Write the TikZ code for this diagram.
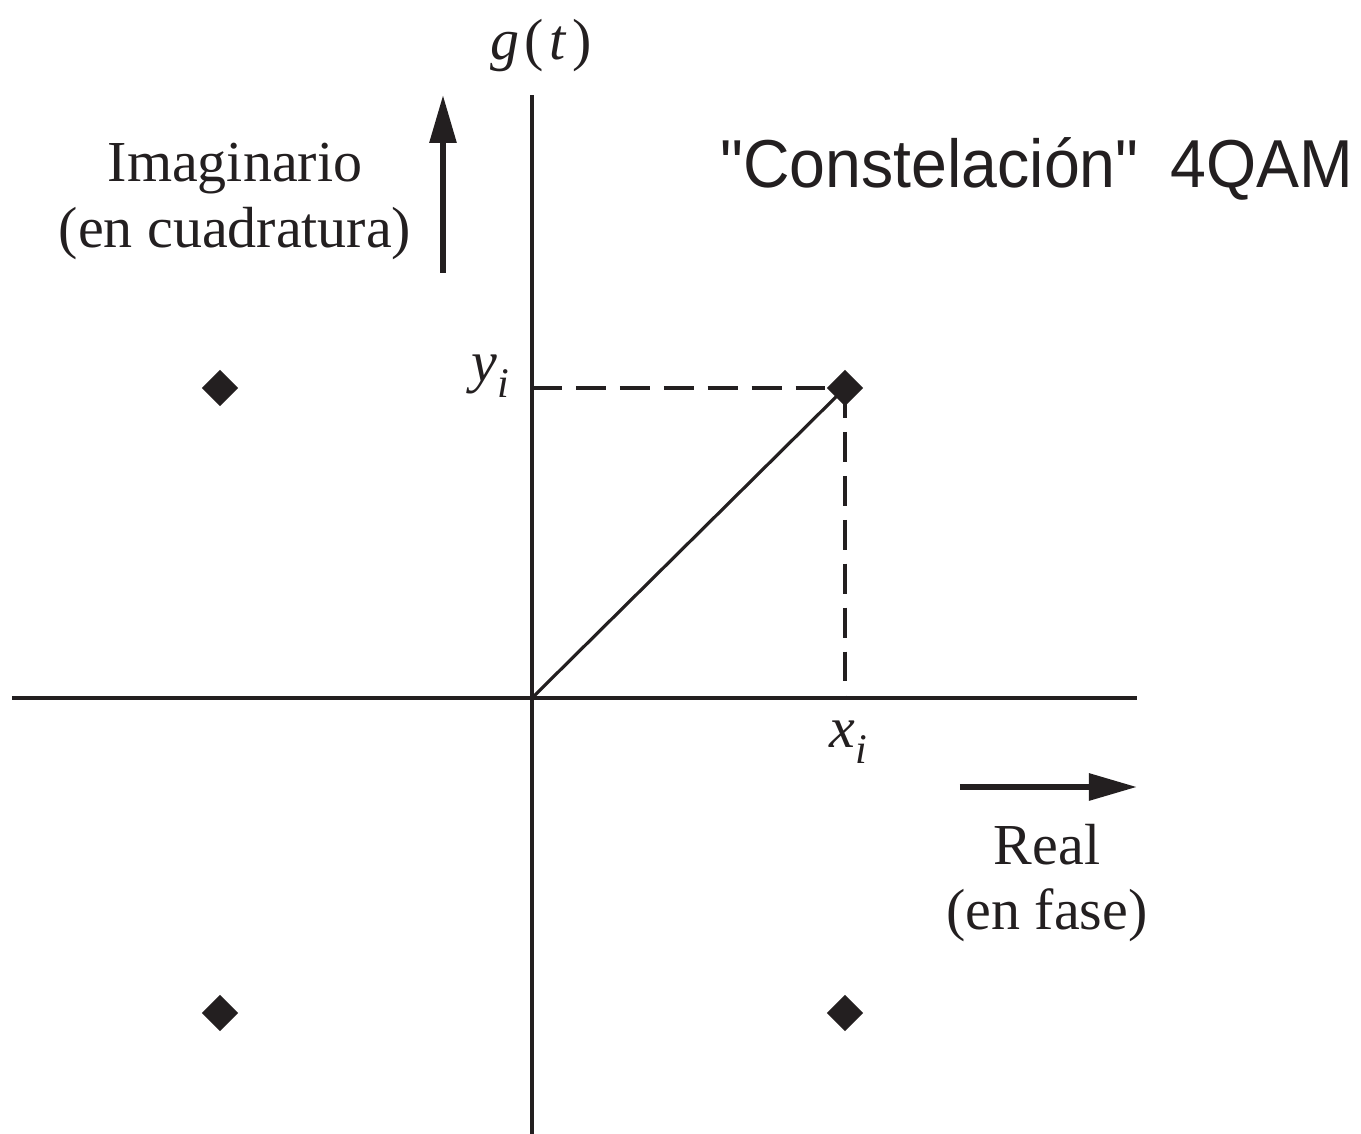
\documentclass[tikz,border=0pt]{standalone}
\usepackage{fontspec}
\setmainfont{Liberation Serif}
\newfontfamily\titlefont{Liberation Sans}
\usepackage{graphicx}
\usetikzlibrary{arrows.meta, shapes.geometric}
\definecolor{ink}{RGB}{35,31,32}
\newcommand{\subi}{\raisebox{-4.5pt}{\fontsize{12}{12}\selectfont\textit{i}}}

\begin{document}
\begin{tikzpicture}[
  x=1cm, y=1cm,
  lbl/.style={font=\fontsize{16.5}{19}\selectfont, align=center, text=ink, inner sep=0pt},
  sym/.style={font=\fontsize{16.5}{19}\selectfont, text=ink, inner sep=0pt},
  axis/.style={draw=ink, line width=0.9pt},
  guide/.style={draw=ink, line width=0.9pt, dash pattern=on 8.5pt off 4pt},
  dir/.style={draw=ink, line width=1.7pt, -{Triangle[length=0.48cm, width=0.26cm]}},
  pt/.style={diamond, fill=ink, inner sep=0pt, minimum size=0.37cm},
]
\useasboundingbox (-5.32,-4.36) rectangle (8.29,6.98);

% ---------- AXES ----------
\coordinate (o) at (0,0);
\coordinate (xl) at (-5.20,0);
\coordinate (xr) at (6.05,0);
\coordinate (yt) at (0,6.03);
\coordinate (yb) at (0,-4.40);
\draw[axis] (xl) -- (xr);
\draw[axis] (yb) -- (yt);

% ---------- 4QAM POINTS ----------
\node[pt] (p1) at (3.13,3.10) {};
\node[pt] (p2) at (-3.12,3.10) {};
\node[pt] (p3) at (-3.12,-3.15) {};
\node[pt] (p4) at (3.13,-3.15) {};

% ---------- VECTOR + PROJECTIONS ----------
\coordinate (yi) at (o |- p1);
\coordinate (xi) at (o -| p1);
\draw[guide] (yi) -- (p1.center);
\draw[guide] (p1.center) -- (xi);
\draw[axis] (o) -- (p1.center);
\node[sym, anchor=base] (ylab) at (-0.42,3.16) {\textit{y}\subi};
\node[sym, anchor=base] (xlab) at (3.16,-0.50) {\textit{x}\subi};
\node[sym, anchor=base] (glab) at (0.09,6.38) {\textit{g}\kern1.5pt(\kern1.5pt\textit{t}\kern1.5pt)};

% ---------- DIRECTIONS ----------
\coordinate (ia) at (-0.89,4.25);
\coordinate (ib) at (-0.89,6.03);
\draw[dir] (ia) -- (ib);
\node[lbl, anchor=base] (imag) at (-2.97,5.16) {Imaginario};
\node[lbl, anchor=base] (quad) at (-2.97,4.50) {(en cuadratura)};
\coordinate (ra) at (4.28,-0.89);
\coordinate (rb) at (6.05,-0.89);
\draw[dir] (ra) -- (rb);
\node[lbl, anchor=base] (real) at (5.15,-1.67) {Real};
\node[lbl, anchor=base] (fase) at (5.15,-2.32) {(en fase)};

% ---------- TITLE ----------
\node[text=ink, inner sep=0pt, anchor=base] (title) at (5.05,5.10)
  {\scalebox{0.95}[1]{\titlefont\fontsize{19.3}{22}\selectfont "Constelación"\hspace{0.5em}4QAM}};

\end{tikzpicture}
\end{document}
